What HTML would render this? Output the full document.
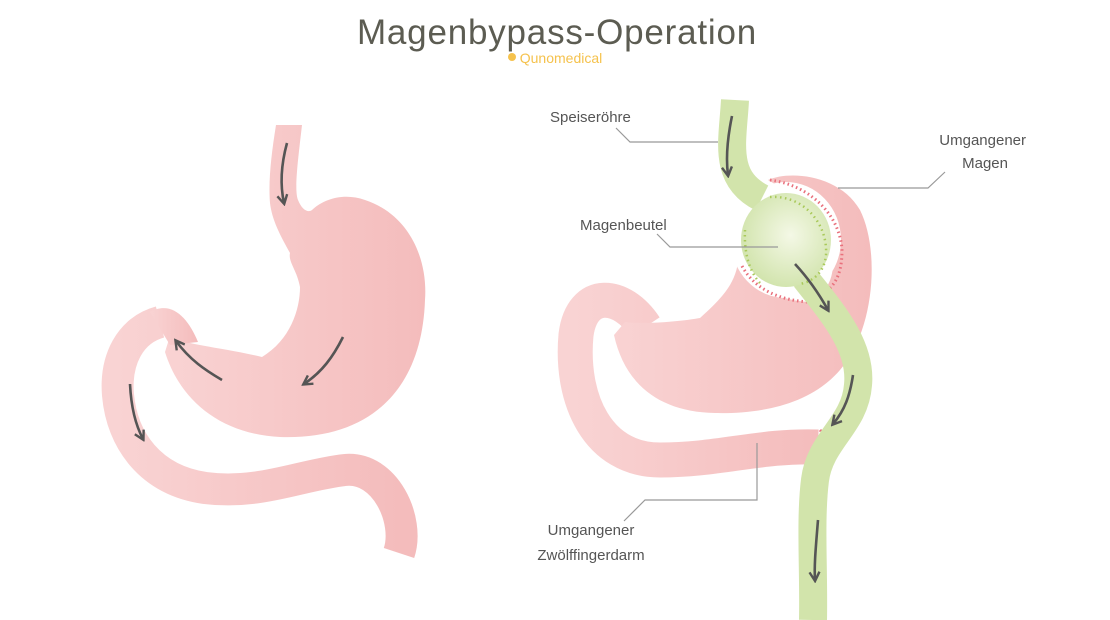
<!DOCTYPE html>
<html><head><meta charset="utf-8"><style>
html,body{margin:0;padding:0;background:#fff}
svg{display:block}
text{font-family:"Liberation Sans",sans-serif}
</style></head><body>
<svg width="1110" height="620" viewBox="0 0 1110 620" xmlns="http://www.w3.org/2000/svg">
<defs>
<linearGradient id="pk" x1="0" x2="1" y1="0" y2="0">
<stop offset="0" stop-color="#f9d3d3"/><stop offset="1" stop-color="#f4bcbc"/>
</linearGradient>
<radialGradient id="gr" cx="0.55" cy="0.45" r="0.6">
<stop offset="0" stop-color="#f4f8e6"/><stop offset="1" stop-color="#d0e3aa"/>
</radialGradient>
<marker id="ah" viewBox="0 0 12 12" refX="9" refY="6" markerWidth="12" markerHeight="12" markerUnits="userSpaceOnUse" orient="auto">
<path d="M1,1 L10,6 L1,11" fill="none" stroke="#555" stroke-width="2.4"/>
</marker>
</defs>

<text x="557" y="44" text-anchor="middle" font-size="35" fill="#5c5c52" letter-spacing="0.8">Magenbypass-Operation</text>
<circle cx="512" cy="57" r="4" fill="#f5c24d"/>
<text x="561" y="63" text-anchor="middle" font-size="14" fill="#f5c24d">Qunomedical</text>

<!-- LEFT -->
<path d="M160,322 C130,330 115,360 118,395 C122,440 150,480 205,488 C260,495 300,475 345,470 C385,466 410,520 399,553" fill="none" stroke="url(#pk)" stroke-width="32"/>
<path d="M276,125 L302,125 C298,160 294,190 298,200 C302,210 308,213 312,210 C325,198 345,193 365,200 C410,215 428,260 425,300 C422,390 370,440 280,437 C220,434 180,400 165,352 L170,336 C185,345 220,347 262,357 C290,340 300,310 300,287 C297,270 288,262 290,253 C280,235 272,220 270,203 C268,180 272,150 276,125Z" fill="url(#pk)"/>
<path d="M150,312 C172,300 188,318 198,342 L170,345 Z" fill="url(#pk)"/>

<!-- RIGHT duodenum -->
<path d="M645,327 C622,292 582,288 576,335 C570,400 598,460 660,460 C720,460 760,445 818,447" fill="none" stroke="url(#pk)" stroke-width="35"/>
<path d="M768,180 C790,170 840,175 860,210 C880,250 875,330 840,370 C810,405 760,414 715,413 C660,412 625,385 614,335 L625,322 C650,325 690,320 700,318 C720,300 735,285 738,262 C755,290 780,300 808,302 C850,285 840,220 768,180Z" fill="url(#pk)"/>
<ellipse cx="786" cy="240" rx="55" ry="58" fill="#fff"/>
<path d="M770,180 C810,185 840,215 842,250 C842,275 835,290 812,300 M742,266 C755,290 780,300 808,302" fill="none" stroke="#e9707c" stroke-width="3" stroke-dasharray="1.5,3"/>
<path d="M820,430 C830,440 830,455 818,463" fill="none" stroke="#e9707c" stroke-width="3" stroke-dasharray="1.5,3"/>

<!-- green tube -->
<path d="M735,100 C733,140 722,178 762,198" fill="none" stroke="#d2e4ab" stroke-width="28"/>
<path d="M805,278 C830,310 862,345 858,385 C855,425 820,440 815,480 C810,520 814,570 813,620" fill="none" stroke="#d2e4ab" stroke-width="28"/>
<ellipse cx="786" cy="240" rx="45" ry="47" fill="url(#gr)"/>
<path d="M770,197 C805,195 828,225 826,255 C824,275 810,282 800,284 M760,283 C748,270 744,250 745,230" fill="none" stroke="#a9c95a" stroke-width="2.5" stroke-dasharray="1.5,3.5"/>

<g fill="none" stroke="#555" stroke-width="2.6" marker-end="url(#ah)">
<path d="M287,143 C281,165 280,185 284,203"/>
<path d="M343,337 C333,357 322,372 304,384"/>
<path d="M222,380 C205,370 190,360 176,341"/>
<path d="M130,384 C131,405 135,424 143,439"/>
<path d="M732,116 C727,140 726,160 728,175"/>
<path d="M795,264 C808,278 818,292 828,310"/>
<path d="M853,375 C850,395 845,410 833,424"/>
<path d="M818,520 C816,545 814,565 815,580"/>
</g>

<g font-size="15" fill="#555">
<text x="550" y="122">Speiseröhre</text>
<text x="580" y="230">Magenbeutel</text>
<text x="1026" y="145" text-anchor="end">Umgangener</text>
<text x="1008" y="168" text-anchor="end">Magen</text>
<text x="591" y="535" text-anchor="middle">Umgangener</text>
<text x="591" y="560" text-anchor="middle">Zwölffingerdarm</text>
</g>
<g fill="none" stroke="#999" stroke-width="1.2">
<path d="M616,128 L630,142 L718,142"/>
<path d="M657,234 L670,247 L778,247"/>
<path d="M838,188 L928,188 L945,172"/>
<path d="M757,443 L757,500 L645,500 L624,521"/>
</g>
</svg>
</body></html>
